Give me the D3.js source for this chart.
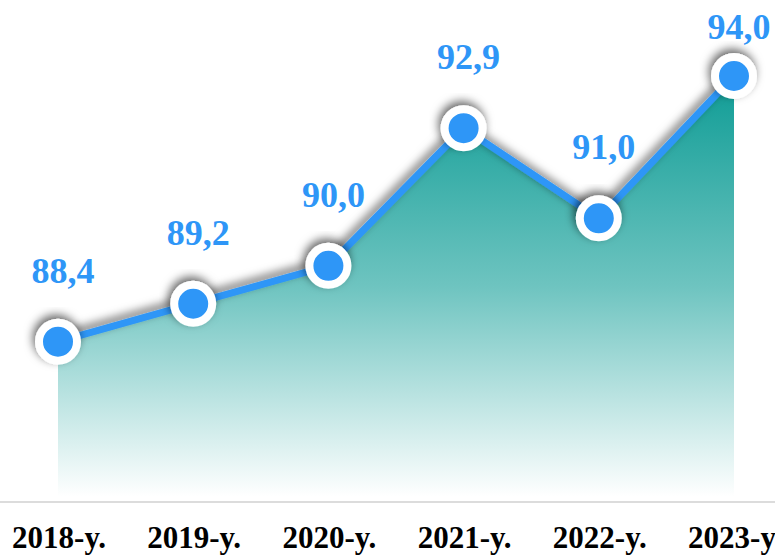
<!DOCTYPE html>
<html>
<head>
<meta charset="utf-8">
<script src="https://cdn.jsdelivr.net/npm/d3@7/dist/d3.min.js"></script>
<style>
  html, body { margin: 0; padding: 0; background: #fff; overflow: hidden; }
  svg { display: block; }
</style>
</head>
<body>
<svg id="chart" width="775" height="558"></svg>
<script>
// Yearly values
const years = ["2018-y.", "2019-y.", "2020-y.", "2021-y.", "2022-y.", "2023-y."];
const values = [88.4, 89.2, 90.0, 92.9, 91.0, 94.0];
const valueLabels = ["88,4", "89,2", "90,0", "92,9", "91,0", "94,0"];

const W = 775, H = 558;
const blue = "#2e96f7";

const svg = d3.select("#chart");
const defs = svg.append("defs");

const grad = defs.append("linearGradient")
  .attr("id", "areaFill").attr("x1", 0).attr("y1", 0).attr("x2", 0).attr("y2", 1);
grad.append("stop").attr("offset", "0%").attr("stop-color", "#0e9c95");
grad.append("stop").attr("offset", "50%").attr("stop-color", "#6ec4c0");
grad.append("stop").attr("offset", "100%").attr("stop-color", "#ffffff");

const shadow = defs.append("filter").attr("id", "shadow")
  .attr("x", "-40%").attr("y", "-40%").attr("width", "180%").attr("height", "180%");
shadow.append("feDropShadow")
  .attr("dx", -2).attr("dy", -4).attr("stdDeviation", 5)
  .attr("flood-color", "#000").attr("flood-opacity", 0.6);

const x = d3.scalePoint().domain(years).range([58, 734]);
const y = d3.scaleLinear().domain([85, 94]).range([503, 76]);
const areaBase = 85.13;

const data = years.map((yr, i) => ({ yr, v: values[i], label: valueLabels[i] }));

// gradient area under the line
svg.append("path")
  .datum(data)
  .attr("fill", "url(#areaFill)")
  .attr("d", d3.area().x(d => x(d.yr)).y0(y(areaBase)).y1(d => y(d.v)));

// baseline
svg.append("line")
  .attr("x1", 0).attr("x2", W)
  .attr("y1", y(85) - 1).attr("y2", y(85) - 1)
  .attr("stroke", "#dcdcdc").attr("stroke-width", 2);

// line
svg.append("path")
  .datum(data)
  .attr("fill", "none")
  .attr("stroke", blue)
  .attr("stroke-width", 7)
  .attr("stroke-linejoin", "round")
  .attr("filter", "url(#shadow)")
  .attr("d", d3.line().x(d => x(d.yr)).y(d => y(d.v)));

// markers
svg.selectAll("circle.pt")
  .data(data)
  .join("circle")
  .attr("class", "pt")
  .attr("cx", d => x(d.yr))
  .attr("cy", d => y(d.v))
  .attr("r", 19)
  .attr("fill", blue)
  .attr("stroke", "#fff")
  .attr("stroke-width", 8)
  .attr("filter", "url(#shadow)");

// value labels
svg.selectAll("text.val")
  .data(data)
  .join("text")
  .attr("class", "val")
  .attr("x", d => x(d.yr) + 5)
  .attr("y", d => Math.max(y(d.v) - 59, 39))
  .attr("text-anchor", "middle")
  .attr("font-family", "'Liberation Serif', 'Times New Roman', serif")
  .attr("font-weight", "bold")
  .attr("font-size", 36)
  .attr("fill", blue)
  .text(d => d.label);

// category labels
svg.selectAll("text.cat")
  .data(data)
  .join("text")
  .attr("class", "cat")
  .attr("x", d => x(d.yr) + 1)
  .attr("y", 548)
  .attr("text-anchor", "middle")
  .attr("font-family", "'Liberation Serif', 'Times New Roman', serif")
  .attr("font-weight", "bold")
  .attr("font-size", 31)
  .attr("fill", "#000")
  .text(d => d.yr);
</script>
</body>
</html>
